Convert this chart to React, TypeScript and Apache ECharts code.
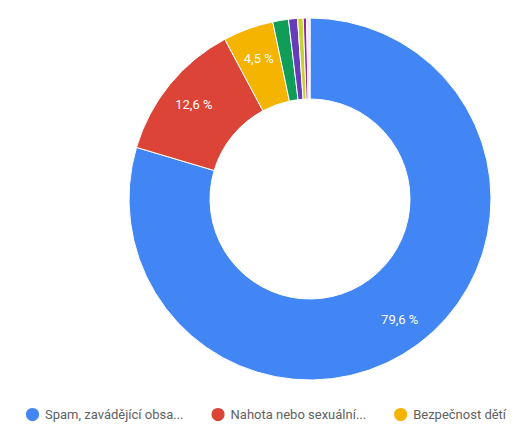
import { useEffect, useRef } from 'react'
import * as echarts from 'echarts'

const categories = [
  'Spam, zavádějící obsah a podvody',
  'Nahota nebo sexuální obsah',
  'Bezpečnost dětí',
  'Násilný nebo drastický obsah',
  'Škodlivý nebo nebezpečný obsah',
  'Obtěžování a kyberšikana',
  'Propagace násilí a násilného extremismu',
  'Jiné',
]
const values = [79.6, 12.6, 4.5, 1.4, 0.8, 0.5, 0.3, 0.3]
const colors = ['#4285f4', '#db4437', '#f4b400', '#0f9d58', '#673ab7', '#c6d231', '#8e24aa', '#f3e5f5']
const legendNames = categories.slice(0, 3)
// legend texts as shown (cut short with an ellipsis)
const legendLabels = ['Spam, zavádějící obsa...', 'Nahota nebo sexuální...', 'Bezpečnost dětí']

const fmt = (v: number) => v.toFixed(1).replace('.', ',') + ' %'

export default function App() {
  const ref = useRef<HTMLDivElement>(null)

  useEffect(() => {
    if (!ref.current) return
    const chart = echarts.init(ref.current, null, { renderer: 'svg' })

    const data = categories.map((name, i) => ({
      name,
      value: values[i],
      itemStyle: { color: colors[i] },
    }))

    chart.setOption({
      animation: false,
      textStyle: { fontFamily: 'Roboto' },
      legend: {
        bottom: 4,
        left: 19,
        icon: 'circle',
        itemWidth: 15,
        itemHeight: 15,
        itemGap: 26,
        selectedMode: false,
        textStyle: { fontSize: 13, color: '#616161', fontFamily: 'Roboto' },
        formatter: (name: string) => legendLabels[legendNames.indexOf(name)],
        data: legendNames,
      },
      series: [
        {
          type: 'pie',
          center: [310, 199],
          radius: [100, 181],
          startAngle: 90,
          clockwise: true,
          avoidLabelOverlap: false,
          itemStyle: { borderColor: '#fff', borderWidth: 1 },
          label: { show: false },
          labelLine: { show: false },
          emphasis: { disabled: true },
          data,
        },
        {
          // label layer, placed so labels sit slightly outside the ring middle
          type: 'pie',
          center: [310, 199],
          radius: [113, 181],
          startAngle: 90,
          clockwise: true,
          silent: true,
          avoidLabelOverlap: false,
          itemStyle: { color: 'transparent', borderWidth: 0 },
          label: {
            position: 'inside',
            color: '#fff',
            fontSize: 13,
            fontFamily: 'Roboto',
            formatter: (p: any) => fmt(p.value),
          },
          labelLine: { show: false },
          emphasis: { disabled: true },
          data: categories.map((name, i) => ({
            name,
            value: values[i],
            itemStyle: { color: 'transparent' },
            label: { show: i < 3 },
          })),
        },
      ],
    })

    return () => chart.dispose()
  }, [])

  return (
    <div
      ref={ref}
      style={{ position: 'fixed', left: 0, top: 0, width: 530, height: 432, background: '#fff' }}
    />
  )
}
